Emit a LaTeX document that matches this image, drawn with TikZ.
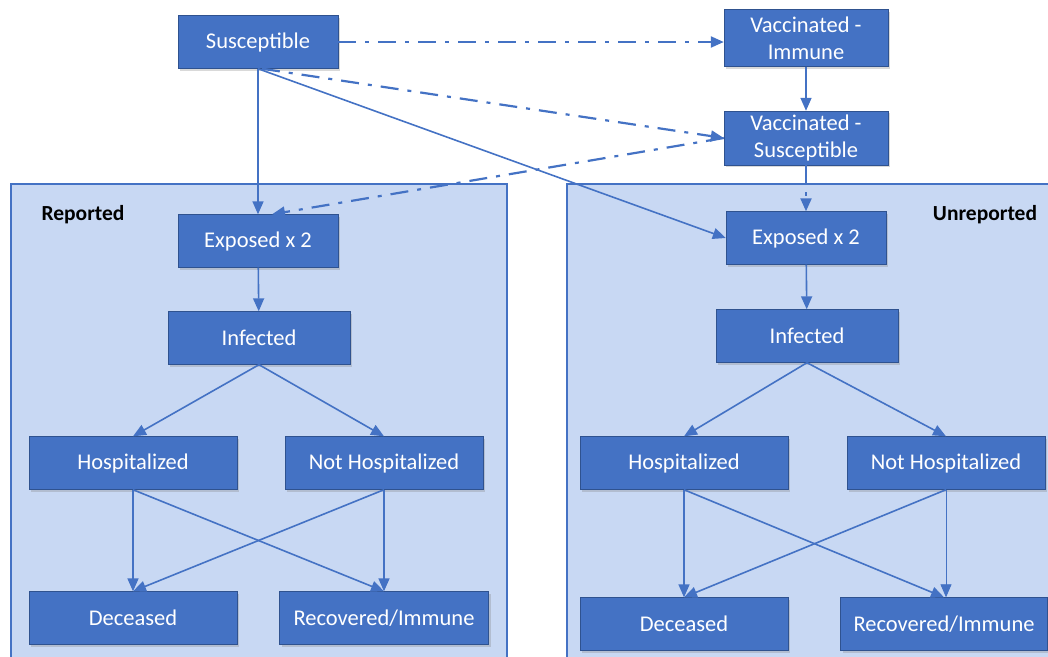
\documentclass[tikz,border=0pt]{standalone}
\usepackage{fontspec}
\setmainfont{Carlito}
\usetikzlibrary{arrows.meta,positioning,shadows}
\definecolor{boxblue}{HTML}{4472C4}
\definecolor{boxedge}{HTML}{2F528F}
\definecolor{panelblue}{HTML}{C8D8F3}

\begin{document}
\begin{tikzpicture}[x=1pt, y=-1pt, every node/.style={font=\fontsize{22.5}{27}\selectfont},
  box/.style={draw=boxedge, fill=boxblue, text=white, align=center, minimum height=53pt, inner sep=1pt,
    drop shadow={opacity=0.3, shadow xshift=2pt, shadow yshift=-2pt}},
  panel/.style={draw=boxblue, fill=panelblue, line width=1.2pt},
  tag/.style={font=\fontsize{21.5}{24}\selectfont\bfseries},
  arr/.style={-{Triangle[length=13pt, width=11pt]}, draw=boxblue, line width=1.6pt},
  vacc/.style={arr, line width=2.2pt, dash pattern=on 18pt off 9pt on 4pt off 9pt}]
\useasboundingbox (0,0) rectangle (1048,656);
\clip (0,0) rectangle (1048,656);
% reported / unreported panels
\draw[panel] (11,184) rectangle (507,670);
\draw[panel] (567,184) rectangle (1060,670);
\node[tag] (rep) at (83,215) {Reported};
\node[tag] (unrep) at (985,215) {Unreported};
% top row
\node[box, minimum width=160pt] (sus) at (258,42) {Susceptible};
\node[box, minimum width=164pt, minimum height=57pt] (vimm) at (806,38) {Vaccinated -\\Immune};
\node[box, minimum width=164pt, minimum height=54pt] (vsus) at (806,138) {Vaccinated -\\Susceptible};
% reported side
\node[box, minimum width=160pt] (expL) at (258,241) {Exposed x 2};
\node[box, minimum width=182pt] (infL) at (259,338) {Infected};
\node[box, minimum width=208pt] (hospL) at (133,463) {Hospitalized};
\node[box, minimum width=198pt] (nhospL) at (384,463) {Not Hospitalized};
\node[box, minimum width=208pt] (deadL) at (133,618) {Deceased};
\node[box, minimum width=209pt] (recL) at (384,618) {Recovered/Immune};
% unreported side
\node[box, minimum width=160pt] (expR) at (806,238) {Exposed x 2};
\node[box, minimum width=182pt] (infR) at (807,336) {Infected};
\node[box, minimum width=208pt] (hospR) at (684,463) {Hospitalized};
\node[box, minimum width=198pt] (nhospR) at (946,463) {Not Hospitalized};
\node[box, minimum width=208pt] (deadR) at (684,624) {Deceased};
\node[box, minimum width=207pt] (recR) at (944,624) {Recovered/Immune};
% vaccination flows
\draw[vacc] (sus.east) -- (sus.east -| vimm.west);
\draw[vacc] ([xshift=4pt]sus.south) -- (vsus.west);
\draw[vacc] (vsus.west) -- ([xshift=14pt]expL.north);
\draw[vacc] (vsus) -- (expR);
\draw[arr] (vimm) -- (vsus);
% exposure
\draw[arr] (sus.south) -- (expL.north);
\draw[arr] (sus.south) -- (expR.west);
\draw[arr] (expL) -- (infL);
\draw[arr] (expR) -- (infR);
% outcomes
\foreach \s in {L,R}{
  \draw[arr] (inf\s.south) -- (hosp\s.north);
  \draw[arr] (inf\s.south) -- (nhosp\s.north);
  \draw[arr] (hosp\s.south) -- (dead\s.north);
  \draw[arr] (hosp\s.south) -- (rec\s.north);
  \draw[arr] (nhosp\s.south) -- (dead\s.north);
}
\draw[arr] (nhospL.south) -- (nhospL.south |- recL.north);
\draw[arr, line width=0.8pt] (nhospR.south) -- (nhospR.south |- recR.north);
\end{tikzpicture}
\end{document}
